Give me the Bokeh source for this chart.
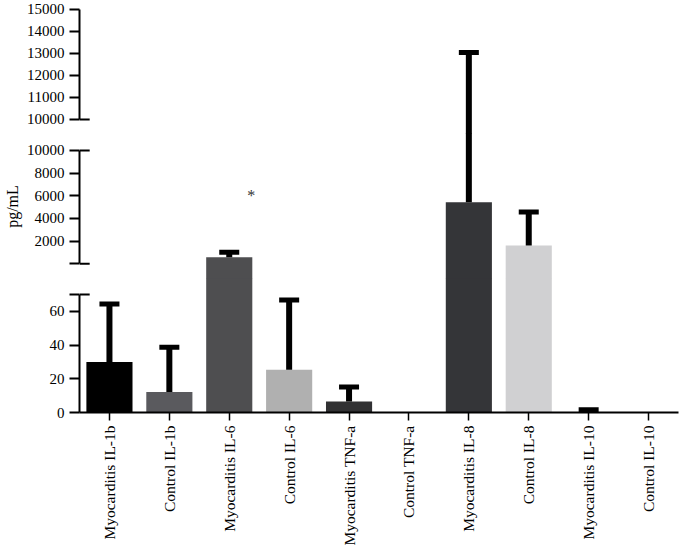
import numpy as np
from bokeh.plotting import figure
from bokeh.models import Range1d, FactorRange, FixedTicker, ColumnDataSource
from bokeh.layouts import column
from bokeh.embed import file_html
from bokeh.resources import INLINE
from bokeh.core.properties import value

# ---------------- data ----------------
categories = ["Myocarditis IL-1b", "Control IL-1b", "Myocarditis IL-6", "Control IL-6",
              "Myocarditis TNF-a", "Control TNF-a", "Myocarditis IL-8", "Control IL-8",
              "Myocarditis IL-10", "Control IL-10"]
means = [30, 12.2, 580, 25.4, 6.5, 0, 5430, 1610, 0.3, 0]
uppers = [64.3, 38.7, 1020, 66.7, 15.2, 0, 13050, 4580, 1.6, 0]
bar_colors = ["#000000", "#5a5a5e", "#4e4e50", "#b0b0b0", "#313133",
              "#808080", "#343538", "#d0d0d2", "#000000", "#a0a0a0"]

top_ticks = [10000, 11000, 12000, 13000, 14000, 15000]
mid_ticks = [0, 2000, 4000, 6000, 8000, 10000]
low_ticks = [0, 20, 40, 60, 70]

star_category = "Myocarditis IL-6"
star_value = 6000
y_label = "pg/mL"

FONT = "Liberation Serif"

# panel specs (layout only): y range, axis bounds, ticks, hidden tick labels,
# break marks, height, floor (segment lower break)
panels = [
    dict(rng=(9318, 15409), bounds=(10000, 15000), ticks=top_ticks, hide=[],
         brk=[10000], height=134, floor=10000, bottom=False, label=False, shift=0),
    dict(rng=(-1386, 11500), bounds=(0, 10000), ticks=mid_ticks, hide=[0],
         brk=[0, 10000], height=146, floor=70, bottom=False, label=True, shift=-1),
    dict(rng=(0, 79.5), bounds=(0, 70), ticks=low_ticks, hide=[70],
         brk=[70], height=270, floor=-1e9, bottom=True, label=False, shift=-1),
]

figs = []
for spec in panels:
    y0, y1 = spec["rng"]
    p = figure(x_range=FactorRange(factors=categories), y_range=Range1d(y0, y1),
               width=680, height=spec["height"], output_backend="svg",
               toolbar_location=None,
               x_axis_location="below" if spec["bottom"] else None,
               min_border_left=74, min_border_right=2, min_border_top=0,
               min_border_bottom=136 if spec["bottom"] else 0,
               background_fill_color=None, border_fill_color=None,
               styles={"margin-top": "%dpx" % spec["shift"]})
    p.outline_line_color = None
    p.xgrid.visible = False
    p.ygrid.visible = False

    # bars
    idx = [i for i in range(len(categories)) if means[i] > spec["floor"]]
    bsrc = ColumnDataSource(dict(x=[categories[i] for i in idx],
                                 top=[means[i] for i in idx],
                                 color=[bar_colors[i] for i in idx]))
    p.vbar(x="x", top="top", bottom=y0, width=0.77, fill_color="color",
           line_color=None, source=bsrc)

    # error bars (upper only)
    eidx = [i for i in range(len(categories))
            if uppers[i] > means[i] and uppers[i] > spec["floor"]]
    esrc = ColumnDataSource(dict(x=[categories[i] for i in eidx],
                                 lo=[means[i] for i in eidx],
                                 hi=[uppers[i] for i in eidx]))
    p.segment(x0="x", x1="x", y0="lo", y1="hi", line_width=6, line_color="black",
              line_cap="butt", source=esrc)
    p.rect(x="x", y="hi", width=20, height=5, width_units="screen",
           height_units="screen", fill_color="black", line_color=None, source=esrc)

    # break marks extending right of the axis
    p.segment(x0=[0] * len(spec["brk"]), x1=[0.17] * len(spec["brk"]),
              y0=spec["brk"], y1=spec["brk"], line_width=2, line_color="black")

    ax = p.yaxis[0]
    ax.ticker = FixedTicker(ticks=spec["ticks"])
    ax.bounds = spec["bounds"]
    ax.major_label_overrides = {v: "" for v in spec["hide"]}
    ax.minor_tick_line_color = None
    ax.major_tick_out = 10
    ax.major_tick_in = 0
    ax.major_tick_line_width = 2
    ax.axis_line_width = 2
    ax.axis_line_color = "black"
    ax.major_tick_line_color = "black"
    ax.major_label_standoff = 5
    ax.major_label_text_font = FONT
    ax.major_label_text_font_size = "15px"
    ax.major_label_text_color = "black"
    if spec["label"]:
        ax.axis_label = y_label
        ax.axis_label_text_font = FONT
        ax.axis_label_text_font_style = "normal"
        ax.axis_label_text_font_size = "16px"
        ax.axis_label_standoff = 3
        ax.axis_label_text_color = "black"
        p.text(x=[star_category], y=[star_value], text=["*"], x_offset=22,
               text_font=value(FONT), text_font_size="16px", text_align="center",
               text_baseline="middle", text_color="#333333")

    if spec["bottom"]:
        xa = p.xaxis[0]
        xa.major_label_orientation = np.pi / 2
        xa.major_tick_out = 8
        xa.major_tick_in = 0
        xa.major_tick_line_width = 1.5
        xa.axis_line_width = 2
        xa.axis_line_color = "black"
        xa.major_tick_line_color = "black"
        xa.major_label_standoff = 5
        xa.major_label_text_font = FONT
        xa.major_label_text_font_size = "15.5px"
        xa.major_label_text_color = "black"
    figs.append(p)

layout = column(*figs, spacing=0)
open("out.html", "w").write(file_html(layout, INLINE))
